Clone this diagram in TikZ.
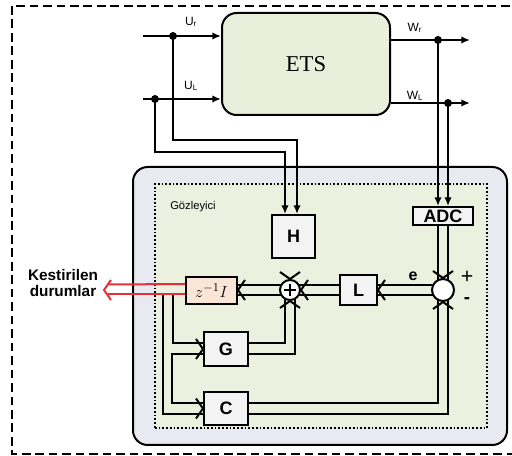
\documentclass[tikz,border=0pt]{standalone}
\usepackage{fontspec}
\setmainfont{Liberation Serif}
\setsansfont{Liberation Sans}
\usetikzlibrary{arrows.meta,calc}
\pgfdeclarelayer{bg}
\pgfdeclarelayer{conn}
\pgfsetlayers{bg,conn,main}
\definecolor{etsgreen}{HTML}{E9EFDB}
\definecolor{obsgreen}{HTML}{EBF0DF}
\definecolor{obsgrey}{HTML}{E9E9F1}
\definecolor{boxfill}{HTML}{F3F3F3}
\definecolor{zfill}{HTML}{FBE5D6}
\definecolor{estred}{HTML}{E5303A}
\begin{document}
\begin{tikzpicture}[x=0.75pt,y=-0.75pt,
  lw/.style={line width=1.5pt},
  blk/.style={lw,draw=black,fill=boxfill,inner sep=0pt,font=\sffamily\bfseries\fontsize{13.5}{15}\selectfont},
  ets/.style={draw=black,lw,fill=etsgreen,rounded corners=11pt,minimum width=126pt,minimum height=76.5pt,inner sep=0pt,font=\rmfamily\fontsize{17}{19}\selectfont},
  lbl/.style={inner sep=0pt,font=\sffamily\fontsize{9}{10}\selectfont},
  sumc/.style={circle,draw=black,lw,fill=white,inner sep=0pt},
  conn/.style={lw,draw=black},
  arr/.style={lw,draw=black,-{Latex[length=6.5pt,width=5.5pt]}},
  dot/.style={fill=black},
  chev/.pic={\draw[pic actions,line width=1.5pt] (-7,10) -- (0,0) -- (-7,-10);}
]
\useasboundingbox (0,0) rectangle (512,456);
\clip (0,0) rectangle (512,456);
% background frames
\begin{pgfonlayer}{bg}
  \draw[line width=2.1pt,dash pattern=on 6.5pt off 3.6pt] (12,6) rectangle (540,454);
  \node[draw=black,lw,fill=obsgrey,rounded corners=11pt,minimum width=280.5pt,minimum height=208.5pt,inner sep=0pt] (grey) at (320,306) {};
  \node[draw=black,line width=1.4pt,dash pattern=on 1.3pt off 1.5pt,fill=obsgreen,minimum width=249pt,minimum height=183pt,inner sep=0pt] (obs) at (321,306) {};
\end{pgfonlayer}
% blocks
\node[ets] (ets) at (306,64) {ETS};
\node[blk,minimum width=32.25pt,minimum height=32.25pt] (H) at (293.5,236.5) {H};
\node[blk,minimum width=45pt,minimum height=13.5pt,font=\sffamily\bfseries\fontsize{13.5}{14}\selectfont] (ADC) at (443,216) {ADC};
\node[blk,minimum width=27.75pt,minimum height=22.5pt] (L) at (358.5,290) {L};
\node[blk,fill=zfill,minimum width=38.25pt,minimum height=20pt,font=\fontsize{12.5}{13}\selectfont] (z) at (211.5,290.5) {$z^{-1}I$};
\node[blk,minimum width=33pt,minimum height=25.5pt] (G) at (226,349) {G};
\node[blk,minimum width=33pt,minimum height=25pt] (C) at (226,408.5) {C};
\node[sumc,minimum size=15pt] (sum) at (290,290) {};
\draw[line width=1.3pt] ($(sum.center)+(-6,0)$) -- ($(sum.center)+(6,0)$) ($(sum.center)+(0,-6)$) -- ($(sum.center)+(0,6)$);
\node[sumc,minimum size=16.5pt] (comp) at (443,290) {};
% texts
\node[lbl] (lur) at (191,22) {U\textsubscript{r}};
\node[lbl] (lul) at (191,86) {U\textsubscript{L}};
\node[lbl] (lwr) at (415,28) {W\textsubscript{r}};
\node[lbl] (lwl) at (415,96) {W\textsubscript{L}};
\node[lbl,font=\sffamily\fontsize{8.4}{9}\selectfont] (gz) at (193,207) {Gözleyici};
\node[lbl,font=\sffamily\bfseries\fontsize{12}{12}\selectfont] (le) at (413,276) {e};
\node[lbl,font=\sffamily\fontsize{16}{16}\selectfont] (lplus) at (467,277) {+};
\node[lbl,font=\sffamily\bfseries\fontsize{14}{14}\selectfont] (lminus) at (467,301) {-};
\node[lbl,align=center,font=\sffamily\bfseries\fontsize{11.5}{11.5}\selectfont] (est) at (63,283) {Kestirilen\\durumlar};
% coordinates
\coordinate (urin) at (143,36);
\coordinate (ulin) at (143,99);
\coordinate (ur) at (173,36);
\coordinate (ul) at (155,99);
\coordinate (wrout) at (470,40);
\coordinate (wlout) at (470,103);
\coordinate (wr) at (438,40);
\coordinate (wl) at (448,103);
\coordinate (esttip) at (104,290);
\coordinate (b1) at (163,295);
\coordinate (b2) at (173,295);
\begin{pgfonlayer}{conn}
  % ETS inputs / outputs
  \draw[arr] (urin) -- (urin -| ets.west);
  \draw[arr] (ulin) -- (ulin -| ets.west);
  \draw[arr] (ets.east |- wrout) -- (wrout);
  \draw[arr] (ets.east |- wlout) -- (wlout);
  \fill[dot] (ur) circle[radius=3pt] (ul) circle[radius=3pt] (wr) circle[radius=3pt] (wl) circle[radius=3pt];
  \draw[arr] (ur) -- (173,140) -| ($(H.north)+(3.5,0)$);
  \draw[arr] (ul) -- (155,152) -| ($(H.north)+(-8.5,0)$);
  \draw[arr] (wr) -- ($(ADC.north)+(-5,0)$);
  \draw[arr] (wl) -- ($(ADC.north)+(5,0)$);
  % ADC -> comparator
  \draw[conn] ($(ADC.south)+(-5,0)$) -- ($(comp.center)+(-5,0)$);
  \draw[conn] ($(ADC.south)+(5,0)$) -- ($(comp.center)+(5,0)$);
  \pic[rotate=-90] at (comp.north) {chev};
  % comparator -> L
  \draw[conn] ($(comp.center)+(0,-5)$) -- ($(L.east)+(0,-5)$);
  \draw[conn] ($(comp.center)+(0,5)$) -- ($(L.east)+(0,5)$);
  \pic[rotate=180] at (L.east) {chev};
  % L -> sum
  \draw[conn] ($(L.west)+(0,-5)$) -- ($(sum.center)+(0,-5)$);
  \draw[conn] ($(L.west)+(0,5)$) -- ($(sum.center)+(0,5)$);
  \pic[rotate=180] at (sum.east) {chev};
  % H -> sum
  \draw[conn] ($(sum.center)+(-5,0)$ |- H.south) -- ($(sum.center)+(-5,0)$);
  \draw[conn] ($(sum.center)+(5,0)$ |- H.south) -- ($(sum.center)+(5,0)$);
  \pic[rotate=-90] at (sum.north) {chev};
  % sum -> z
  \draw[conn] ($(sum.center)+(0,-5)$) -- ($(z.east)+(0,-5.5)$);
  \draw[conn] ($(sum.center)+(0,5)$) -- ($(z.east)+(0,4.5)$);
  \pic[rotate=180] at ($(z.east)+(0,-0.5)$) {chev};
  % feedback branches
  \draw[conn] (b1) |- ($(C.west)+(0,5.5)$);
  \draw[conn] (b2) |- ($(G.west)+(0,-5.5)$);
  \draw[conn] ($(G.west)+(0,5)$) -| ($(C.west)+(-31,-5.5)$) -- ($(C.west)+(0,-5.5)$);
  \pic at (G.west) {chev};
  \pic at (C.west) {chev};
  % G -> sum
  \draw[conn] ($(G.east)+(0,-5.5)$) -| ($(sum.center)+(-5,0)$);
  \draw[conn] ($(G.east)+(0,5)$) -| ($(sum.center)+(5,0)$);
  \pic[rotate=90] at (sum.south) {chev};
  % C -> comparator
  \draw[conn] ($(C.east)+(0,-5.5)$) -| ($(comp.center)+(-5,0)$);
  \draw[conn] ($(C.east)+(0,5.5)$) -| ($(comp.center)+(5,0)$);
  \pic[rotate=90] at (comp.south) {chev};
  % estimated states (red)
  \draw[lw,estred] ($(z.west)+(0,-6.5)$) -- ($(esttip)+(3.5,-5.5)$);
  \draw[lw,estred] ($(z.west)+(0,4)$) -- ($(esttip)+(3.5,4.5)$);
  \pic[estred,rotate=180] at (esttip) {chev};
\end{pgfonlayer}
\end{tikzpicture}
\end{document}
